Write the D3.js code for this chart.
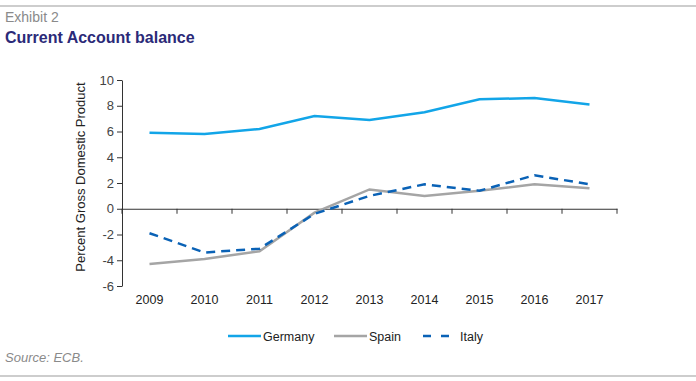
<!DOCTYPE html>
<html>
<head>
<meta charset="utf-8">
<script src="https://cdn.jsdelivr.net/npm/d3@7"></script>
<style>
  body { margin: 0; background: #fff; }
  svg text { font-family: "Liberation Sans", Arial, sans-serif; }
</style>
</head>
<body>
<div id="chart"></div>
<script>
// chart data
const years = ['2009', '2010', '2011', '2012', '2013', '2014', '2015', '2016', '2017'];
const germany = [5.9, 5.8, 6.2, 7.2, 6.9, 7.5, 8.5, 8.6, 8.1];
const spain = [-4.3, -3.9, -3.3, -0.3, 1.5, 1.0, 1.4, 1.9, 1.6];
const italy = [-1.9, -3.4, -3.1, -0.4, 1.0, 1.9, 1.4, 2.6, 1.9];
const yTicks = [-6, -4, -2, 0, 2, 4, 6, 8, 10];

const series = [
    { name: 'Germany', values: germany, color: '#12a5e8', dash: null },
    { name: 'Spain', values: spain, color: '#a5a5a5', dash: null },
    { name: 'Italy', values: italy, color: '#0a62b6', dash: '9,6' }
];

const W = 696, H = 381;
const svg = d3.select('#chart').append('svg')
    .attr('width', W)
    .attr('height', H);

// header / footer rules
svg.append('line').attr('x1', 0).attr('x2', W).attr('y1', 6).attr('y2', 6)
    .attr('stroke', '#bdbdbd').attr('stroke-width', 1.5);
svg.append('line').attr('x1', 0).attr('x2', W).attr('y1', 376).attr('y2', 376)
    .attr('stroke', '#bdbdbd').attr('stroke-width', 1.5);

svg.append('text').attr('x', 5).attr('y', 22)
    .attr('fill', '#8a8a8a').attr('font-size', 14)
    .text('Exhibit 2');
svg.append('text').attr('x', 5).attr('y', 43)
    .attr('fill', '#2b2a78').attr('font-size', 16).attr('font-weight', 'bold')
    .text('Current Account balance');
svg.append('text').attr('x', 5).attr('y', 362)
    .attr('fill', '#8a8a8a').attr('font-size', 13).attr('font-style', 'italic')
    .text('Source: ECB.');

// plot area
const plotLeft = 122, plotRight = 617, plotTop = 80, plotBottom = 286;

const x = d3.scaleBand().domain(years).range([plotLeft, plotRight]);
const y = d3.scaleLinear().domain([-6, 10]).range([plotBottom, plotTop]);

// y axis (plain hyphen for negatives like the original)
const yAxis = svg.append('g')
    .attr('transform', 'translate(' + plotLeft + ',0)')
    .call(d3.axisLeft(y).tickValues(yTicks).tickSize(5).tickSizeOuter(0)
        .tickFormat(d => String(d)));
yAxis.select('.domain').attr('stroke', '#333');
yAxis.selectAll('.tick line').attr('stroke', '#333');
yAxis.selectAll('.tick text')
    .attr('font-size', 13).attr('fill', '#444')
    .attr('font-family', '"Liberation Sans", Arial, sans-serif');

// x axis on zero line
const xAxis = svg.append('g')
    .attr('transform', 'translate(0,' + y(0) + ')')
    .call(d3.axisBottom(x).tickSize(0).tickSizeOuter(0));
xAxis.select('.domain').attr('stroke', '#333');
xAxis.selectAll('.tick text').remove();

// tick marks at band boundaries
const bounds = years.map(d => x(d) + x.bandwidth()).concat([plotLeft]);
svg.append('g').selectAll('line')
    .data(bounds)
    .join('line')
    .attr('x1', d => d).attr('x2', d => d)
    .attr('y1', y(0)).attr('y2', y(0) + 5)
    .attr('stroke', '#333');

// x labels at bottom
svg.append('g').selectAll('text')
    .data(years)
    .join('text')
    .attr('x', d => x(d) + x.bandwidth() / 2)
    .attr('y', 304)
    .attr('text-anchor', 'middle')
    .attr('font-size', 12.5).attr('fill', '#222')
    .text(d => d);

// y label
svg.append('text')
    .attr('transform', 'translate(85,' + ((plotTop + plotBottom) / 2 - 6) + ') rotate(-90)')
    .attr('text-anchor', 'middle')
    .attr('font-size', 13).attr('fill', '#222')
    .text('Percent Gross Domestic Product');

// lines
const line = d3.line()
    .x((d, i) => x(years[i]) + x.bandwidth() / 2)
    .y(d => y(d));

series.forEach(s => {
    svg.append('path')
        .datum(s.values)
        .attr('d', line)
        .attr('fill', 'none')
        .attr('stroke', s.color)
        .attr('stroke-width', 2.5)
        .attr('stroke-dasharray', s.dash);
});

// legend
const legendX = [228, 334, 423];
const lg = svg.append('g');
series.forEach((s, i) => {
    lg.append('line')
        .attr('x1', legendX[i]).attr('x2', legendX[i] + (s.dash ? 30 : 33))
        .attr('y1', 336).attr('y2', 336)
        .attr('stroke', s.color).attr('stroke-width', 2.5)
        .attr('stroke-dasharray', s.dash ? '8,10' : null);
    lg.append('text')
        .attr('x', legendX[i] + (s.dash ? 37 : 35))
        .attr('y', 340.5)
        .attr('font-size', 12.5).attr('fill', '#222')
        .text(s.name);
});
</script>
</body>
</html>
